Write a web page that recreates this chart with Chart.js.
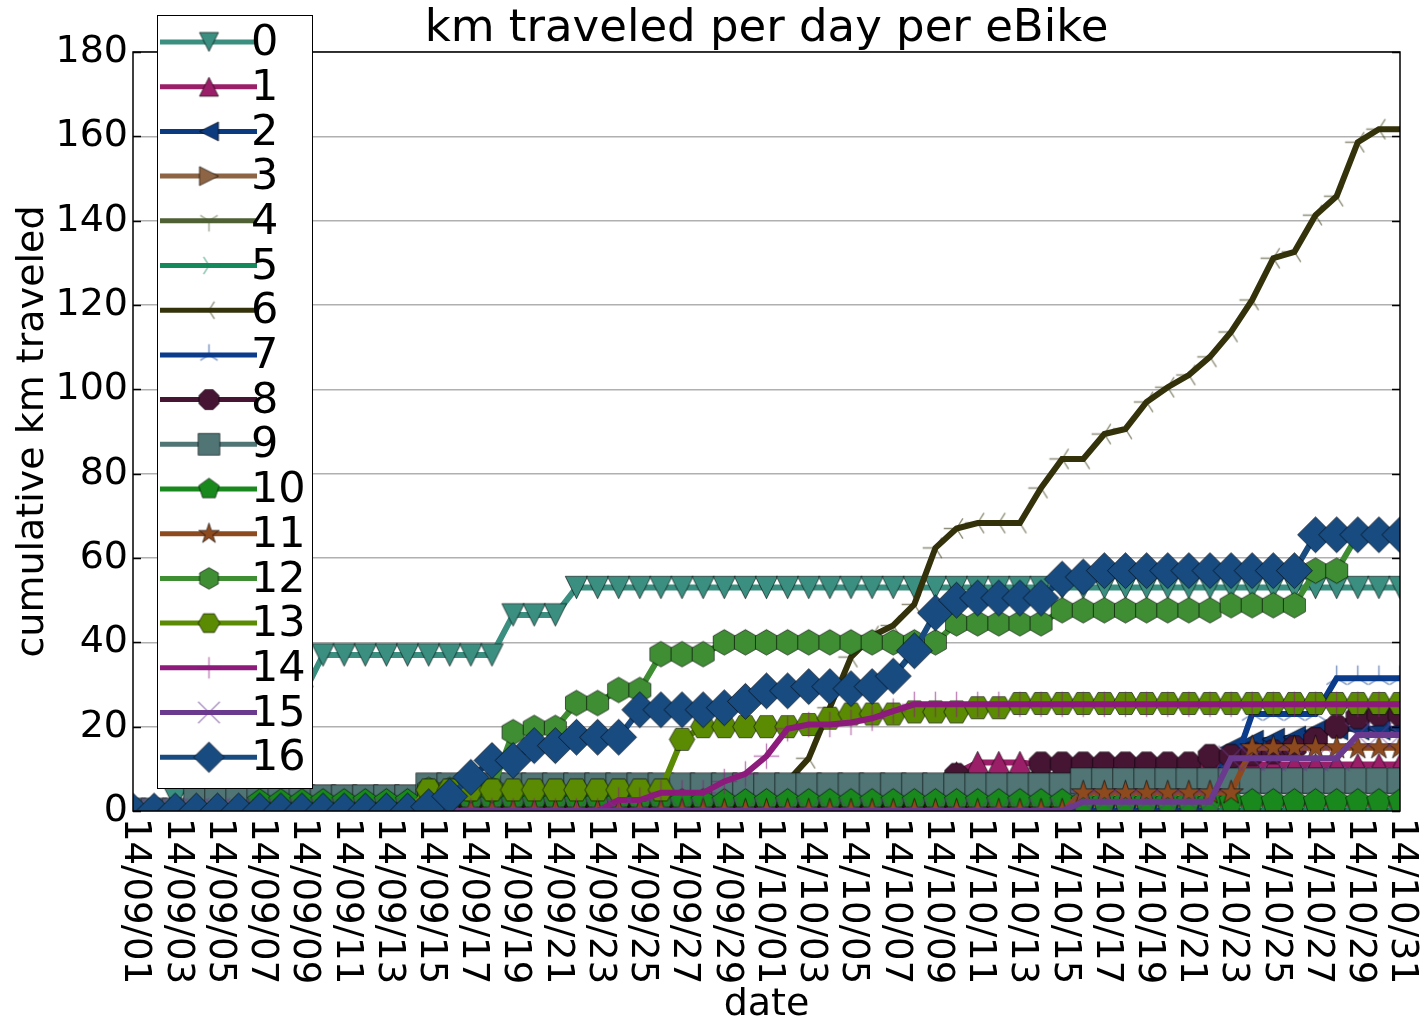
<!DOCTYPE html>
<html>
<head>
<meta charset="utf-8">
<script src="https://cdn.jsdelivr.net/npm/chart.js@4.4.1/dist/chart.umd.min.js"></script>
<style>
  html, body { margin: 0; padding: 0; background: #ffffff; overflow: hidden; }
  #chart { display: block; }
</style>
</head>
<body>
<canvas id="chart" width="1425" height="1024"></canvas>
<script>
// Dates shown on the x axis (one point per day)
const dates = [
  '14/09/01','14/09/02','14/09/03','14/09/04','14/09/05','14/09/06','14/09/07','14/09/08','14/09/09','14/09/10',
  '14/09/11','14/09/12','14/09/13','14/09/14','14/09/15','14/09/16','14/09/17','14/09/18','14/09/19','14/09/20',
  '14/09/21','14/09/22','14/09/23','14/09/24','14/09/25','14/09/26','14/09/27','14/09/28','14/09/29','14/09/30',
  '14/10/01','14/10/02','14/10/03','14/10/04','14/10/05','14/10/06','14/10/07','14/10/08','14/10/09','14/10/10',
  '14/10/11','14/10/12','14/10/13','14/10/14','14/10/15','14/10/16','14/10/17','14/10/18','14/10/19','14/10/20',
  '14/10/21','14/10/22','14/10/23','14/10/24','14/10/25','14/10/26','14/10/27','14/10/28','14/10/29','14/10/30',
  '14/10/31'
];

const bikeIds = ['0','1','2','3','4','5','6','7','8','9','10','11','12','13','14','15','16'];

const yTicks = [0, 20, 40, 60, 80, 100, 120, 140, 160, 180];

// Cumulative km per bike, one value per day
const km0 = [0,0,3,8,12,16,20,24,27,37,
  37,37,37,37,37,37,37,37,46.5,46.5,
  46.5,53,53,53,53,53,53,53,53,53,
  53,53,53,53,53,53,53,53,53,53,
  53,53,53,53,53,53,53,53,53,53,
  53,53,53,53,53,53,53,53,53,53,
  53];
const km1 = [0,0,0,0,0,0,0,0,0,0,
  0,0,0,0,0,0,0,0,0,0,
  0,0,0,0,0,0,0,0,0,0,
  0,0,0,0,0,0,0,0,0,9,
  11.5,11.5,11.5,11,11,11,11,11,11,11,
  11,11,11,11,11,11,11,11,11,11,
  11];
const km2 = [0,0,0,0,0,0,0,0,0,0,
  0,0,0,0,0,0,0,0,0,0,
  0,0,0,0,0,0,0,0,0,0,
  0,0,0,0,0,0,0,0,0,0,
  0,0,0,0,0,0,0,0,0,0,
  0,5,15,16.5,17,17.5,19,19.5,19.5,19.5,
  19.5];
const km3 = [0,0,0,0,0,0,0,0,0,0,
  0,0,0,0,0,0,0,0,0,0,
  0,0,0,0,0,0,0,0,0,0,
  0,0,0,0,0,0,0,0,0,0,
  0,0,0,0,0,0,0,0,0,0,
  0,0,0,0,0,0,0,0,0,0,
  0];
const km4 = [0,0,0,0,0,0,0,0,0,0,
  0,0,0,0,0,0,0,0,0,0,
  0,0,0,0,0,0,0,0,0,0,
  0,0,0,0,0,0,0,0,0,0,
  0,0,0,0,0,0,0,0,0,0,
  0,0,0,0,0,0,0,0,0,0,
  0];
const km5 = [0,0,0,0,0,0,0,0,0,0,
  0,0,0,0,0,0,0,0,0,0,
  0,0,0,0,0,0,0,0,0,0,
  0,0,0,0,0,0,0,0,0,0,
  0,0,0,0,0,0,0,0,0,0,
  0,0,0,0,0,0,0,0,0,0,
  0];
const km6 = [0,0,0,0,0,0,0,0,0,0,
  0,0,0,0,0,0,0,0,0,0,
  0,0,0,0,0,0,0,0,0,0,
  0,7,12.5,24.5,36.5,41.5,44,49,62.4,67,
  68.3,68.3,68.3,76.6,83.5,83.5,89.4,90.6,97,100.5,
  103.4,107.7,113.6,121.2,131.1,132.6,141.3,145.8,158.6,161.7,
  161.7];
const km7 = [0,0,0,0,0,0,0,0,0,0,
  0,0,0,0,0,0,0,0,0,0,
  0,0,0,0,0,0,0,0,0,0,
  0,0,0,0,0,0,0,0,0,0,
  0,0,0,0,0,0,0,0,0,0,
  0,0,8.7,23,23,23,23,31.5,31.5,31.5,
  31.5];
const km8 = [0,0,0,0,0,0,0,0,0,0,
  0,0,0,0,0,0,0,0,0,0,
  0,0,0,0,0,0,0,0,0,0,
  0,0,0,0,0,0,0,0,0,8.5,
  4,4,4,11.2,11.2,11.2,11.2,11.2,11.2,11.2,
  11.2,13,13,13.5,14,15,17,20,22.3,23,
  23];
const km9 = [0,0,0,3.2,3.2,3.2,3.2,3.2,3.2,3.2,
  3.2,3.2,3.2,3.2,6,6,6,6,6,6,
  6,6,6,6,6,6,6,6,6,6,
  6,6,6,6,6,6,6,6,6,6,
  6,6,6,6,6,7.2,7.2,7.2,7.2,7.2,
  7.2,7.2,7.2,7.2,7.2,7.2,7.2,7.2,7.2,7.2,
  7.2];
const km10 = [0,0,0,0,0,0,2.3,2.3,2.3,2.3,
  2.3,2.3,2.3,2.3,2.3,2.3,2.3,2.3,2.3,2.3,
  2.3,2.3,2.3,2.3,2.3,2.3,2.3,2.3,2.3,2.3,
  2.3,2.3,2.3,2.3,2.3,2.3,2.3,2.3,2.3,2.3,
  2.3,2.3,2.3,2.3,2.3,2.3,2.3,2.3,2.3,2.3,
  2.3,2.3,2.3,2.3,2.3,2.3,2.3,2.3,2.3,2.3,
  2.3];
const km11 = [0,0,0,0,0,0,0,0,0,0,
  0,0,0,0,0,0,0,0,0,0,
  0,0,0,0,0,0,0,0,0,0,
  0,0,0,0,0,0,0,0,0,0,
  0,0,0,0,0,4.3,4.3,4.3,4.3,4.3,
  4.3,4.3,4.3,15,15,15,15,15,15,15,
  15];
const km12 = [0,0,0,0,0,0,0,0,0,0,
  0,0,0,0,5,5,5,5,18.7,19.7,
  19.7,25.6,25.6,28.7,28.7,37.2,37.2,37.2,40,40,
  40,40,40,40,40,40,40,40,40,44.5,
  44.5,44.5,44.5,44.5,47.6,47.6,47.6,47.6,47.6,47.6,
  47.6,47.6,48.8,48.8,48.8,48.8,57,57,65.5,65.5,
  65.5];
const km13 = [0,0,0,0,0,0,0,0,0,0,
  0,0,0,0,5,5,5,5,5,5,
  5,5,5,5,5,5,17,20,20,20,
  20,20,20.5,22,23,23,23,23.5,23.5,23.5,
  24.5,24.5,25.5,25.5,25.5,25.5,25.5,25.5,25.5,25.5,
  25.5,25.5,25.5,25.5,25.5,25.5,25.5,25.5,25.5,25.5,
  25.5];
const km14 = [0,0,0,0,0,0,0,0,0,0,
  0,0,0,0,0,0,0,0,0,0,
  0,0,0,2.6,2.6,4.3,4.3,4.3,7,8.8,
  13,19.5,20.5,20.5,21,22,23.7,25.3,25.3,25.3,
  25.3,25.3,25.3,25.3,25.3,25.3,25.3,25.3,25.3,25.3,
  25.3,25.3,25.3,25.3,25.3,25.3,25.3,25.3,25.3,25.3,
  25.3];
const km15 = [0,0,0,0,0,0,0,0,0,0,
  0,0,0,0,0,0,0,0,0,0,
  0,0,0,0,0,0,0,0,0,0,
  0,0,0,0,0,0,0,0,0,0,
  0,0,0,0,0,2.2,2.2,2.2,2.2,2.2,
  2.2,2.2,12.5,12.5,12.5,12.5,12.5,12.5,18,18,
  18];
const km16 = [0,0,0,0,0,0,0,0,0,0,
  0,0,0,0,1,3.5,8,12,12,15.5,
  15.5,17.5,17.5,17.5,24,24,24,24,24.5,26,
  28.5,28.5,29.5,29.5,29,29.5,32,38,47,50,
  50.5,50.5,50.5,50.5,55,55.5,57,57,57,57,
  57,57,57,57,57,57,65.5,65.5,65.5,65.5,
  65.5];

const kmSeries = [km0, km1, km2, km3, km4, km5, km6, km7, km8, km9, km10, km11, km12, km13, km14, km15, km16];

const colors = ['#3b8f80','#9a1f68','#0c3a7f','#8d6444','#4e6034','#148a5c','#33320b','#0b3b8b',
                '#461534','#517575','#19891d','#8e4a1f','#3f8e34','#5b8b03','#8c1b7c','#6a3a8e','#184b80'];
const markers = ['v','^','<','>','tri_down','tri_right','tri_left','tri_up','8','s','p','*','h','H','+','x','D'];

const FONT = 'DejaVu Sans';
const MS = 25.5;

// Build a marker sprite on an offscreen canvas
function makeMarker(kind, color, scale) {
  const ms = MS * scale;
  const size = Math.ceil(ms * 1.6) + 6;
  const cv = document.createElement('canvas');
  cv.width = size; cv.height = size;
  const g = cv.getContext('2d');
  g.translate(size / 2, size / 2);
  const r = ms / 2;
  const t = r * 0.88;
  const poly = (pts) => {
    g.beginPath();
    pts.forEach(([px, py], i) => i ? g.lineTo(px, py) : g.moveTo(px, py));
    g.closePath();
    g.fillStyle = color; g.fill();
    g.lineWidth = 1; g.strokeStyle = 'rgba(0,0,0,0.6)'; g.stroke();
  };
  const regular = (n, rot, rad) => {
    const pts = [];
    for (let i = 0; i < n; i++) {
      const a = rot + i * 2 * Math.PI / n;
      pts.push([rad * Math.sin(a), -rad * Math.cos(a)]);
    }
    return pts;
  };
  const strokes = (segs) => {
    g.beginPath();
    segs.forEach(([x1, y1, x2, y2]) => { g.moveTo(x1, y1); g.lineTo(x2, y2); });
    g.globalAlpha = 0.55; g.strokeStyle = color; g.lineWidth = 1.4; g.stroke();
    g.globalAlpha = 1;
  };
  switch (kind) {
    case 'v': poly([[0, t], [-t, -t], [t, -t]]); break;
    case '^': poly([[0, -t], [-t, t], [t, t]]); break;
    case '<': poly([[-t, 0], [t, -t], [t, t]]); break;
    case '>': poly([[t, 0], [-t, -t], [-t, t]]); break;
    case 'tri_down': strokes([[0,0,0,r],[0,0,0.8*r,-0.5*r],[0,0,-0.8*r,-0.5*r]]); break;
    case 'tri_up': strokes([[0,0,0,-r],[0,0,0.8*r,0.5*r],[0,0,-0.8*r,0.5*r]]); break;
    case 'tri_left': strokes([[0,0,-r,0],[0,0,0.5*r,-0.8*r],[0,0,0.5*r,0.8*r]]); break;
    case 'tri_right': strokes([[0,0,r,0],[0,0,-0.5*r,-0.8*r],[0,0,-0.5*r,0.8*r]]); break;
    case '8': poly(regular(8, Math.PI / 8, r)); break;
    case 's': poly([[-r, -r], [r, -r], [r, r], [-r, r]]); break;
    case 'p': poly(regular(5, 0, r)); break;
    case '*': {
      const pts = [];
      for (let i = 0; i < 10; i++) {
        const rad = i % 2 ? r * 0.381966 : r;
        const a = i * Math.PI / 5;
        pts.push([rad * Math.sin(a), -rad * Math.cos(a)]);
      }
      poly(pts); break;
    }
    case 'h': poly(regular(6, 0, r)); break;
    case 'H': poly(regular(6, Math.PI / 6, r)); break;
    case '+': strokes([[-r,0,r,0],[0,-r,0,r]]); break;
    case 'x': strokes([[-r,-r,r,r],[-r,r,r,-r]]); break;
    case 'D': { const R = ms * Math.SQRT1_2; poly([[0,-R],[R,0],[0,R],[-R,0]]); break; }
  }
  return cv;
}

const plotMarkers = markers.map((m, i) => makeMarker(m, colors[i], 1));
const legendMarkers = markers.map((m, i) => makeMarker(m, colors[i], 0.85));

const datasets = kmSeries.map((vals, i) => ({
  label: bikeIds[i],
  data: vals,
  borderColor: colors[i],
  backgroundColor: colors[i],
  borderWidth: 6,
  tension: 0,
  fill: false,
  pointStyle: plotMarkers[i],
  pointRadius: 12,
  pointHoverRadius: 12,
  clip: 0,
  order: bikeIds.length - 1 - i
}));

// Frame, inward ticks, rotated date labels and the boxed legend
const decorations = {
  id: 'decorations',
  afterDatasetsDraw(chart) {
    const { ctx, chartArea: a, scales: { x, y } } = chart;
    ctx.save();
    ctx.strokeStyle = '#000';
    ctx.lineWidth = 1.5;
    ctx.strokeRect(a.left, a.top, a.right - a.left, a.bottom - a.top);
    ctx.beginPath();
    yTicks.forEach(v => {
      const py = Math.round(y.getPixelForValue(v)) + 0.5;
      ctx.moveTo(a.left, py); ctx.lineTo(a.left + 8, py);
      ctx.moveTo(a.right, py); ctx.lineTo(a.right - 8, py);
    });
    ctx.stroke();

    // date labels, every second day, turned a quarter clockwise
    ctx.fillStyle = '#000';
    ctx.font = '37px "' + FONT + '"';
    ctx.textAlign = 'left';
    ctx.textBaseline = 'middle';
    dates.forEach((d, i) => {
      if (i % 2) return;
      const px = x.getPixelForValue(i);
      ctx.save();
      ctx.translate(px + 2, a.bottom + 7);
      ctx.rotate(Math.PI / 2);
      ctx.fillText(d, 0, 0);
      ctx.restore();
    });

    // legend box
    const lx = 157, ly = 15, lw = 155, lh = 773;
    ctx.fillStyle = '#fff';
    ctx.fillRect(lx, ly, lw, lh);
    ctx.strokeStyle = '#000';
    ctx.lineWidth = 1;
    ctx.strokeRect(lx + 0.5, ly + 0.5, lw, lh);
    ctx.font = '43px "' + FONT + '"';
    bikeIds.forEach((id, i) => {
      const ey = 42 + i * 44.7;
      ctx.strokeStyle = colors[i];
      ctx.lineWidth = 5;
      ctx.beginPath();
      ctx.moveTo(160, ey); ctx.lineTo(257, ey);
      ctx.stroke();
      const m = legendMarkers[i];
      ctx.drawImage(m, 209 - m.width / 2, ey - m.height / 2);
      ctx.fillStyle = '#000';
      ctx.fillText(id, 251, ey + 2);
    });
    ctx.restore();
  }
};

new Chart(document.getElementById('chart'), {
  type: 'line',
  data: { labels: dates, datasets },
  options: {
    responsive: false,
    animation: false,
    devicePixelRatio: 1,
    layout: { padding: { left: 0, right: 25, top: 0, bottom: 0 } },
    plugins: {
      legend: { display: false },
      tooltip: { enabled: false },
      title: {
        display: true,
        fullSize: false,
        text: 'km traveled per day per eBike',
        color: '#000',
        font: { family: FONT, size: 45, weight: 'normal', lineHeight: 1.0 },
        padding: { top: 7, bottom: 0 }
      }
    },
    scales: {
      x: {
        type: 'category',
        offset: false,
        ticks: { display: false },
        grid: { display: false },
        border: { display: false },
        title: {
          display: true, text: 'date', color: '#000',
          font: { family: FONT, size: 38, lineHeight: 1 },
          padding: { top: 0, bottom: 0 }
        },
        afterFit(scale) { scale.height = 213; }
      },
      y: {
        type: 'linear',
        min: 0, max: 180,
        ticks: { stepSize: 20, color: '#000', padding: 5, font: { family: FONT, size: 38 } },
        grid: { color: '#b0b0b0', lineWidth: 1.5, drawTicks: false },
        border: { display: false },
        title: {
          display: true, text: 'cumulative km traveled', color: '#000',
          font: { family: FONT, size: 38, lineHeight: 1 },
          padding: { top: 14, bottom: 0 }
        },
        afterFit(scale) { scale.width = 133; }
      }
    }
  },
  plugins: [decorations]
});
</script>
</body>
</html>
